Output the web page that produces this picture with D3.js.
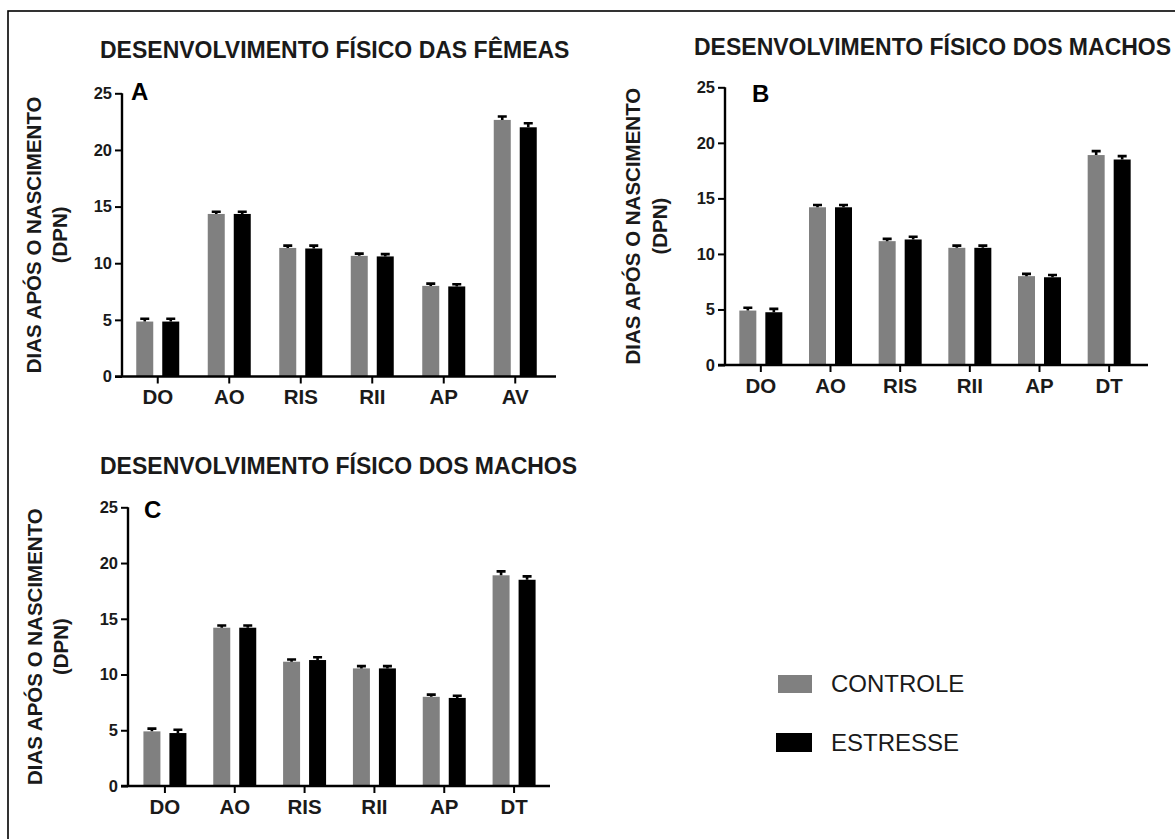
<!DOCTYPE html>
<html>
<head>
<meta charset="utf-8">
<script src="https://cdn.jsdelivr.net/npm/d3@7"></script>
<style>
  html, body { margin: 0; padding: 0; background: #fff; }
  svg { display: block; }
  text { font-family: "Liberation Sans", Arial, sans-serif; }
</style>
</head>
<body>
<svg id="chart" width="1175" height="839"></svg>
<script>
// Developmental milestones (days after birth), control vs. stress groups
const categoriesFemales = ["DO", "AO", "RIS", "RII", "AP", "AV"];
const categoriesMales = ["DO", "AO", "RIS", "RII", "AP", "DT"];

const controleFemales = [4.85, 14.35, 11.35, 10.65, 8.0, 22.65];
const estresseFemales = [4.85, 14.35, 11.3, 10.6, 7.95, 22.0];
const semControleFemales = [0.25, 0.2, 0.2, 0.2, 0.2, 0.3];
const semEstresseFemales = [0.25, 0.2, 0.25, 0.2, 0.2, 0.35];

const controleMales = [4.9, 14.2, 11.15, 10.55, 8.0, 18.9];
const estresseMales = [4.75, 14.2, 11.3, 10.55, 7.9, 18.5];
const semControleMales = [0.25, 0.2, 0.2, 0.2, 0.2, 0.35];
const semEstresseMales = [0.3, 0.2, 0.25, 0.2, 0.2, 0.3];

const yTicks = [0, 5, 10, 15, 20, 25];
const seriesNames = ["CONTROLE", "ESTRESSE"];
const seriesColors = ["#808080", "#000000"];

const svg = d3.select("#chart");

// frame around the figure
svg.append("rect")
  .attr("x", 8).attr("y", 11)
  .attr("width", 1180).attr("height", 840)
  .attr("fill", "none").attr("stroke", "#000").attr("stroke-width", 1.6);

function drawPanel(p) {
  const g = svg.append("g");
  const y = d3.scaleLinear().domain([0, 25]).range([p.y0, p.y25]);
  const x = d3.scaleBand().domain(p.categories).range([p.xStart, p.xEnd]);

  // title
  g.append("text")
    .attr("x", p.titleX).attr("y", p.titleY)
    .attr("font-size", 23).attr("font-weight", "bold")
    .attr("fill", "#1a1a1a")
    .text(p.title);

  // y axis label (two lines)
  const cy = (p.y0 + p.y25) / 2;
  g.append("text")
    .attr("transform", `translate(${p.labelX1},${cy}) rotate(-90)`)
    .attr("text-anchor", "middle").attr("dominant-baseline", "central")
    .attr("font-size", 20.5).attr("font-weight", "bold").attr("fill", "#1a1a1a")
    .text("DIAS APÓS O NASCIMENTO");
  g.append("text")
    .attr("transform", `translate(${p.labelX2},${cy}) rotate(-90)`)
    .attr("text-anchor", "middle").attr("dominant-baseline", "central")
    .attr("font-size", 20.5).attr("font-weight", "bold").attr("fill", "#1a1a1a")
    .text("(DPN)");

  // bars
  const barW = 17, gap = 9;
  const series = [p.controle, p.estresse];
  const sems = [p.semControle, p.semEstresse];
  series.forEach((vals, si) => {
    const offset = si === 0 ? -(gap / 2 + barW) : gap / 2;
    g.selectAll(null).data(p.categories).enter().append("rect")
      .attr("x", d => x(d) + x.bandwidth() / 2 + offset)
      .attr("y", (d, i) => y(vals[i]))
      .attr("width", barW)
      .attr("height", (d, i) => y(0) - y(vals[i]))
      .attr("fill", seriesColors[si]);
    // error bars (upper half, SEM)
    g.selectAll(null).data(p.categories).enter().append("path")
      .attr("d", (d, i) => {
        const cx = x(d) + x.bandwidth() / 2 + offset + barW / 2;
        const top = y(vals[i] + sems[si][i]);
        return `M${cx},${y(vals[i])}V${top}M${cx - 4.5},${top}H${cx + 4.5}`;
      })
      .attr("stroke", "#000").attr("stroke-width", 2.6).attr("fill", "none");
  });

  // y axis
  const yAxis = d3.axisLeft(y).tickValues(yTicks).tickSize(7).tickPadding(3);
  const ya = g.append("g").attr("transform", `translate(${p.axisX},0)`).call(yAxis);
  ya.select(".domain").attr("stroke-width", 2.4).attr("d", `M0,${p.y0}V${p.y25}`);
  ya.selectAll(".tick line").attr("stroke-width", 2);
  ya.selectAll(".tick text")
    .attr("font-size", 16.5).attr("font-weight", "bold").attr("fill", "#1a1a1a")
    .attr("font-family", "Liberation Sans, Arial, sans-serif");

  // x axis
  const xAxis = d3.axisBottom(x).tickSize(7).tickPadding(6);
  const xa = g.append("g").attr("transform", `translate(0,${p.y0})`).call(xAxis);
  xa.select(".domain").attr("stroke-width", 2.4).attr("d", `M${p.axisX - 7},0H${p.axisEnd}`);
  xa.selectAll(".tick line").attr("stroke-width", 2);
  xa.selectAll(".tick text")
    .attr("font-size", 20.5).attr("font-weight", "bold").attr("fill", "#1a1a1a")
    .attr("font-family", "Liberation Sans, Arial, sans-serif");

  // panel letter
  g.append("text")
    .attr("x", p.letterX).attr("y", p.letterY)
    .attr("font-family", "Liberation Serif, Times New Roman, serif")
    .attr("font-size", 24).attr("font-weight", "bold")
    .text(p.letter);
}

drawPanel({
  title: "DESENVOLVIMENTO FÍSICO DAS FÊMEAS", titleX: 100, titleY: 58,
  categories: categoriesFemales,
  controle: controleFemales, estresse: estresseFemales,
  semControle: semControleFemales, semEstresse: semEstresseFemales,
  axisX: 122, axisEnd: 556, xStart: 122, xEnd: 551,
  y0: 376.5, y25: 93.3,
  labelX1: 33, labelX2: 59,
  letter: "A", letterX: 131, letterY: 100
});

drawPanel({
  title: "DESENVOLVIMENTO FÍSICO DOS MACHOS", titleX: 694, titleY: 55,
  categories: categoriesMales,
  controle: controleMales, estresse: estresseMales,
  semControle: semControleMales, semEstresse: semEstresseMales,
  axisX: 725, axisEnd: 1148, xStart: 726, xEnd: 1144,
  y0: 365, y25: 87.3,
  labelX1: 632, labelX2: 659,
  letter: "B", letterX: 752, letterY: 102
});

drawPanel({
  title: "DESENVOLVIMENTO FÍSICO DOS MACHOS", titleX: 100, titleY: 474,
  categories: categoriesMales,
  controle: controleMales, estresse: estresseMales,
  semControle: semControleMales, semEstresse: semEstresseMales,
  axisX: 128, axisEnd: 550, xStart: 130, xEnd: 549,
  y0: 786, y25: 507.3,
  labelX1: 34, labelX2: 60,
  letter: "C", letterX: 144, letterY: 518
});

// legend
const legend = svg.append("g");
const legendRows = [
  { x: 778, y: 675, w: 34, h: 18, ty: 692 },
  { x: 776, y: 733, w: 36, h: 19, ty: 751 }
];
seriesNames.forEach((name, i) => {
  const r = legendRows[i];
  legend.append("rect")
    .attr("x", r.x).attr("y", r.y).attr("width", r.w).attr("height", r.h)
    .attr("fill", seriesColors[i]);
  legend.append("text")
    .attr("x", 831).attr("y", r.ty)
    .attr("font-size", 24).attr("fill", "#1a1a1a")
    .text(name);
});
</script>
</body>
</html>
